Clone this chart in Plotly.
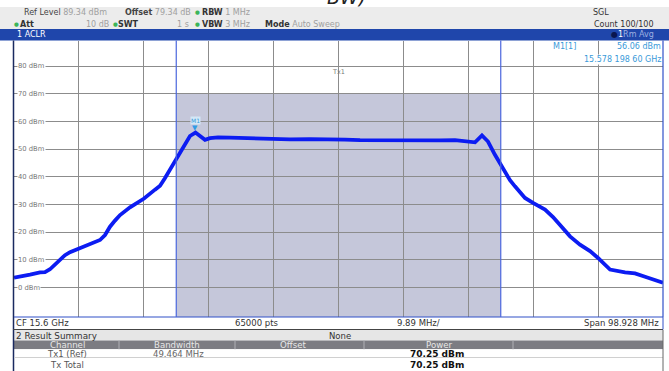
import plotly.graph_objects as go

# ---------------- data ----------------
cf_ghz = 15.6
span_mhz = 98.928
ref_level = 89.34
chan_bw_mhz = 49.464
chan_power_dbm = 70.25
marker_freq_ghz = 15.5781986
marker_level_dbm = 56.06

freq_offset_mhz = [-49.46, -48.24, -47.02, -45.50, -44.74, -43.98, -43.21, -42.45, -41.69, -40.93,
                   -39.55, -37.88, -36.35, -35.59, -34.83, -34.07, -33.30, -31.78, -29.64, -27.97,
                   -27.20, -26.44, -25.68, -24.77, -23.70, -22.64, -21.80, -21.11, -20.35, -19.59,
                   -18.37, -16.54, -13.49, -10.44, -7.39, -4.34, -1.30, 0.99, 3.28, 6.33,
                   9.37, 12.42, 15.47, 17.76, 20.04, 20.81, 21.87, 22.79, 23.85, 24.62,
                   25.38, 26.14, 26.90, 28.43, 29.65, 31.48, 32.70, 33.76, 35.29, 36.81,
                   38.34, 39.56, 40.62, 41.39, 43.68, 45.20, 46.73, 49.46]
level_dbm = [3.6, 4.3, 4.7, 5.5, 5.6, 6.6, 8.3, 10.2, 11.7, 12.8,
             14.2, 15.8, 17.2, 19.0, 22.0, 24.2, 26.2, 29.0, 32.2, 35.4,
             36.8, 39.6, 42.6, 46.2, 51.0, 54.8, 56.06, 54.9, 53.4, 54.0,
             54.3, 54.2, 53.9, 53.8, 53.6, 53.7, 53.4, 53.5, 53.3, 53.2,
             53.1, 53.0, 53.2, 53.3, 52.8, 52.5, 55.0, 52.8, 48.0, 45.0,
             41.4, 38.8, 36.6, 32.4, 30.6, 28.2, 25.5, 22.7, 18.5, 15.5,
             13.2, 10.7, 8.2, 6.5, 5.5, 5.1, 3.9, 1.7]

y_grid_dbm = [0, 10, 20, 30, 40, 50, 60, 70, 80]
y_grid_labels = ["0 dBm", "10 dBm", "20 dBm", "30 dBm", "40 dBm", "50 dBm", "60 dBm", "70 dBm", "80 dBm"]

table_header = ["Channel", "Bandwidth", "Offset", "Power"]
table_channels = ["Tx1 (Ref)", "Tx Total"]
table_bandwidth = ["49.464 MHz", ""]
table_power = ["70.25 dBm", "70.25 dBm"]

# ---------------- geometry helpers ----------------
W, H = 669, 371
FONT = "DejaVu Sans"


def px(x):
    return x / W


def py(y):
    return 1 - y / H


freq_ghz = [cf_ghz + o / 1000 for o in freq_offset_mhz]
f_lo = cf_ghz - span_mhz / 2000
f_hi = cf_ghz + span_mhz / 2000
x_grid = [f_lo + k * span_mhz / 10000 for k in range(11)]
ch_lo = cf_ghz - chan_bw_mhz / 2000
ch_hi = cf_ghz + chan_bw_mhz / 2000

fig = go.Figure()
fig.add_trace(go.Scatter(x=freq_ghz, y=level_dbm, mode="lines",
                         line=dict(color="#0c1cf2", width=3.8), hoverinfo="skip",
                         showlegend=False))

shapes = []
annos = []


def rect(x0, y0, x1, y1, fill, line=None, lw=0):
    shapes.append(dict(type="rect", xref="paper", yref="paper", x0=px(x0), x1=px(x1),
                       y0=py(y1), y1=py(y0), fillcolor=fill,
                       line=dict(color=line or fill, width=lw), layer="below"))


def hline(x0, x1, y, color, w=1):
    shapes.append(dict(type="line", xref="paper", yref="paper", x0=px(x0), x1=px(x1),
                       y0=py(y), y1=py(y), line=dict(color=color, width=w)))


def vline(x, y0, y1, color, w=1):
    shapes.append(dict(type="line", xref="paper", yref="paper", x0=px(x), x1=px(x),
                       y0=py(y0), y1=py(y1), line=dict(color=color, width=w)))


def text(x, y, t, size=8, color="#333", anchor="left", bg=None, bold=False, **kw):
    if bold:
        t = "<b>" + t + "</b>"
    a = dict(xref="paper", yref="paper", x=px(x), y=py(y), text=t, showarrow=False,
             xanchor=anchor, yanchor="middle", font=dict(family=FONT, size=size, color=color),
             borderpad=0)
    if bg:
        a["bgcolor"] = bg
    a.update(kw)
    annos.append(a)


# header
rect(0, 7, 669, 29, "#ececec")
rect(0, 29, 669, 40.5, "#1f46ab")
annos.append(dict(xref="paper", yref="paper", x=px(346), y=py(10), text="BW)", showarrow=False,
                  xanchor="center", yanchor="bottom",
                  font=dict(family=FONT, size=19, color="#222", style="italic")))
green = "#3cb55a"
text(23, 12, "Ref Level <span style='color:#a0a0a0'>89.34 dBm</span>", color="#444")
text(124, 12, "<b>Offset</b> <span style='color:#a0a0a0'>79.34 dB</span>", color="#444")
text(194, 12, "●", size=5.5, color=green)
text(201, 12, "<b>RBW</b> <span style='color:#a0a0a0'>1 MHz</span>", color="#333")
text(13, 24, "●", size=5.5, color=green)
text(19, 24, "<b>Att</b>", color="#333")
text(110, 24, "10 dB", color="#a0a0a0", anchor="right")
text(111.5, 24, "●", size=5.5, color=green)
text(117, 24, "<b>SWT</b>", color="#333")
text(190, 24, "1 s", color="#a0a0a0", anchor="right")
text(194, 24, "●", size=5.5, color=green)
text(201, 24, "<b>VBW</b> <span style='color:#a0a0a0'>3 MHz</span>", color="#333")
text(264, 24, "<b>Mode</b> <span style='color:#a0a0a0'>Auto Sweep</span>", color="#333")
text(592, 12, "SGL", color="#333")
text(593, 24, "Count 100/100", color="#333")
text(16, 35, "1 ACLR", color="white")
text(655, 35, "<span style='color:#0a1650'>●</span><span style='color:#ffffff'>1</span>"
     "<span style='color:#9db0e2'>Rm Avg</span>", anchor="right", color="white")

# plot frame
vline(13.5, 40.5, 371, "#1a2a60", 1.5)
vline(663, 40.5, 317, "#3050c8", 1.2)
hline(14, 663, 317, "#3050c8", 1.2)

# channel bar (measured channel power) and boundaries
shapes.append(dict(type="rect", xref="x", yref="y", x0=ch_lo, x1=ch_hi, y0=-10.66,
                   y1=chan_power_dbm, fillcolor="#c5c7da", line=dict(width=0), layer="below"))
for xb in (ch_lo, ch_hi):
    shapes.append(dict(type="line", xref="x", yref="y domain", x0=xb, x1=xb, y0=0, y1=1,
                       line=dict(color="#4a66dd", width=1.2)))

# y gridline labels
for v, lab in zip(y_grid_dbm, y_grid_labels):
    annos.append(dict(xref="paper", yref="y", x=px(16.5), y=v, text=lab, showarrow=False,
                      xanchor="left", yanchor="middle", bgcolor="white", borderpad=0,
                      font=dict(family=FONT, size=6.8, color="#777")))

text(338, 72, "Tx1", size=6.5, color="#777", anchor="center")

# marker M1
annos.append(dict(xref="x", yref="y", x=marker_freq_ghz, y=marker_level_dbm, text="▼",
                  showarrow=False, xanchor="center", yanchor="bottom", yshift=-1,
                  font=dict(family=FONT, size=7, color="#2f9be6")))
annos.append(dict(xref="x", yref="y", x=marker_freq_ghz, y=marker_level_dbm, text="M1",
                  showarrow=False, xanchor="center", yanchor="bottom", yshift=8,
                  bgcolor="#d3e8f7", borderpad=0,
                  font=dict(family=FONT, size=6, color="#3a9ad9")))
blue_txt = "#3a9ad9"
text(552, 47, "M1[1]", color=blue_txt, bg="white")
text(662, 47, f"{marker_level_dbm:.2f} dBm", color=blue_txt, anchor="right", bg="white")
text(662, 59.5, "15.578 198 60 GHz", color=blue_txt, anchor="right", bg="white")

# CF row
rect(14, 317.6, 663, 329, "white")
hline(13, 663, 329.5, "#444", 1)
vline(663, 317, 329.5, "#3050c8", 1)
text(15, 323, "CF 15.6 GHz", color="#333", size=8.5)
text(256, 323, "65000 pts", color="#333", anchor="center", size=8.5)
text(418, 323, "9.89 MHz/", color="#333", anchor="center", size=8.5)
text(660, 323, "Span 98.928 MHz", color="#333", anchor="right", size=8.5)

# result summary
rect(14, 330, 663, 340.5, "#e6e6e6")
text(15, 335.5, "2 Result Summary", color="#333", size=8.8)
text(340, 335.5, "None", color="#333", anchor="center", size=8.5)
rect(14, 340.5, 663, 349.3, "#7c7c82")
col_sep = [119, 235, 364, 513]
for xs in col_sep:
    vline(xs, 340.5, 349.3, "#b0b0b5", 1)
col_centers = [67, 177, 293, 439]
for xc, h in zip(col_centers, table_header):
    text(xc, 344.8, h, color="#e8e8e8", anchor="center", size=8.6)
rect(14, 349.3, 663, 371, "white")
hline(14, 663, 357.5, "#d0d0d0", 1)
vline(663, 330, 371, "#666", 1)
row_y = [354, 364.5]
for ry, ch, bw, pw in zip(row_y, table_channels, table_bandwidth, table_power):
    text(67, ry, ch, color="#555", anchor="center", size=8.5)
    if bw:
        text(179, ry, bw, color="#666", anchor="center", size=8.5)
    text(437, ry, pw, color="#111", anchor="center", bold=True, size=9)

fig.update_layout(
    width=W, height=H, margin=dict(l=0, r=0, t=0, b=0),
    paper_bgcolor="white", plot_bgcolor="white", showlegend=False,
    xaxis=dict(domain=[px(14), px(663)], range=[f_lo, f_hi], tickvals=x_grid,
               showticklabels=False, ticks="", showgrid=True, gridcolor="#8c8c8c",
               gridwidth=1, zeroline=False, showline=False),
    yaxis=dict(domain=[py(317), py(40.5)], range=[-10.66, ref_level], tickvals=y_grid_dbm,
               showticklabels=False, ticks="", showgrid=True, gridcolor="#8c8c8c",
               gridwidth=1, zeroline=False, showline=False),
    shapes=shapes, annotations=annos,
)

fig.write_html("out.html", config={"displayModeBar": False},
               post_script="document.body.style.margin='0';document.body.style.overflow='hidden';")
